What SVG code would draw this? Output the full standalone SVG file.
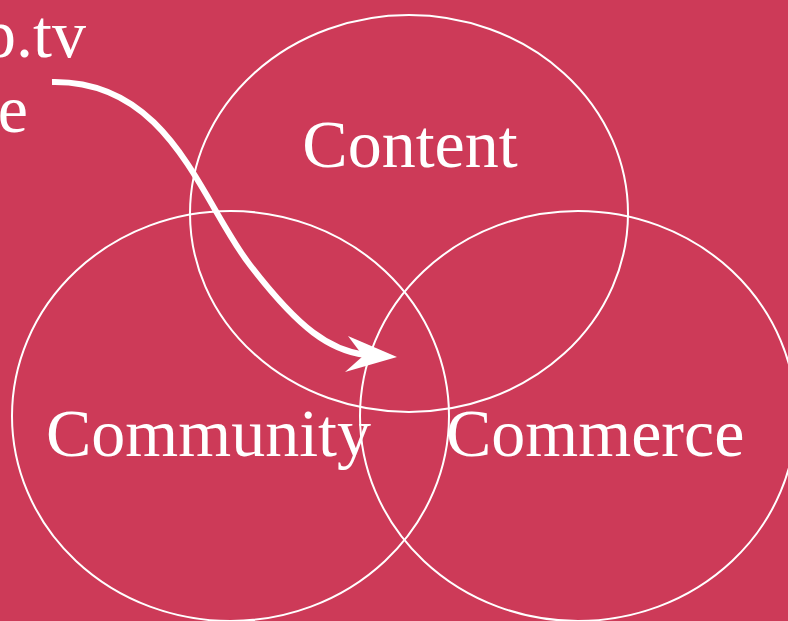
<svg xmlns="http://www.w3.org/2000/svg" width="788" height="621" viewBox="0 0 788 621">
<style>
.c{fill:none;stroke:#fff;stroke-width:2}
.t{font-family:"Liberation Serif","DejaVu Serif",serif;font-size:68px;fill:#fff}
</style>
<rect width="788" height="621" fill="#CD3A58"/>
<g id="content"><ellipse class="c" cx="409" cy="213.5" rx="219" ry="198.5"/><text class="t" x="410" y="167" text-anchor="middle">Content</text></g>
<g id="community"><ellipse class="c" cx="230.5" cy="416" rx="218.5" ry="205"/><text class="t" x="46" y="456">Community</text></g>
<g id="commerce"><ellipse class="c" cx="578" cy="416" rx="218" ry="205"/><text class="t" x="446" y="456">Commerce</text></g>
<g id="label"><text class="t" x="86" y="57" text-anchor="end">p.tv</text><text class="t" x="28" y="132" text-anchor="end">e</text></g>
<g id="connectors">
<path d="M52,82 C170,80 200,200 250,265 S330,350 365,355" fill="none" stroke="#fff" stroke-width="6"/>
<polygon points="397,357 348,336 363,356 345,372" fill="#fff"/>
</g>
</svg>
